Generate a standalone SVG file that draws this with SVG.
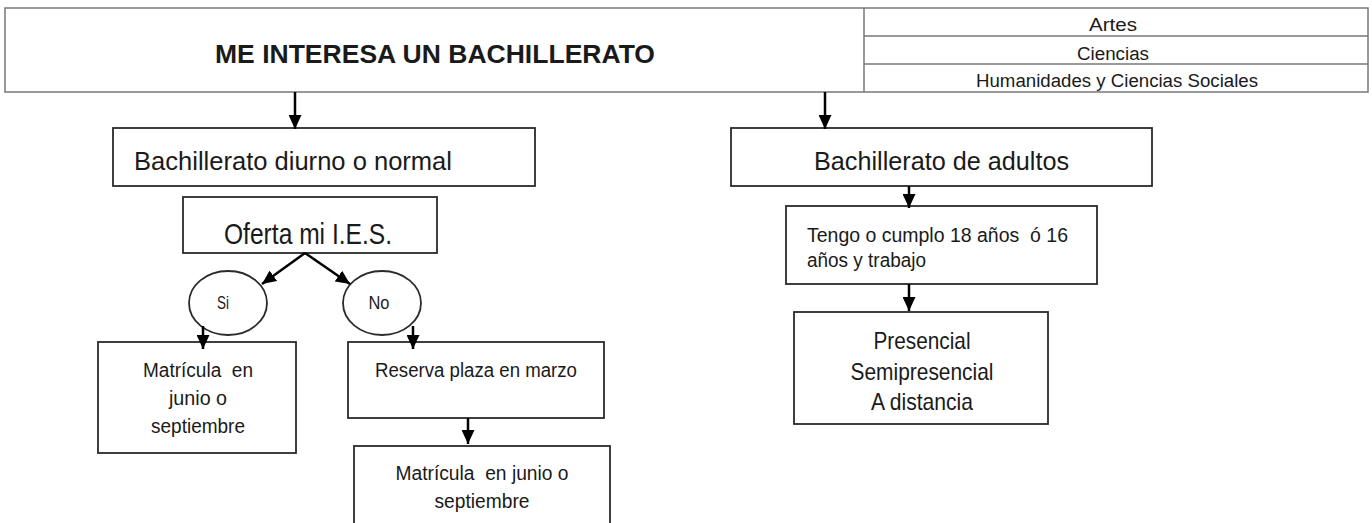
<svg xmlns="http://www.w3.org/2000/svg" width="1372" height="523" viewBox="0 0 1372 523">
<defs>
<style>
.box{fill:#fff;stroke:#2a2a2a;stroke-width:1.8}
.hdr{fill:#fff;stroke:#777;stroke-width:1.5}
.t{font-family:"Liberation Sans",Arial,sans-serif;fill:#1a1a1a;white-space:pre}
.c{text-anchor:middle}
.conn{stroke:#000;stroke-width:2.5;fill:none;marker-end:url(#ah)}
</style>
<marker id="ah" viewBox="0 0 14 13" refX="14" refY="6.5" markerWidth="14" markerHeight="13" markerUnits="userSpaceOnUse" orient="auto">
<path d="M0,0 L14,6.5 L0,13 z" fill="#000"/>
</marker>
</defs>
<rect width="1372" height="523" fill="#fff"/>

<g id="header">
<rect class="hdr" x="5" y="8" width="1363" height="84"/>
<line class="hdr" x1="864" y1="8" x2="864" y2="92"/>
<line class="hdr" x1="864" y1="36" x2="1368" y2="36"/>
<line class="hdr" x1="864" y1="64" x2="1368" y2="64"/>
<text class="t" x="215" y="63" font-size="26" font-weight="bold" textLength="440" lengthAdjust="spacingAndGlyphs">ME INTERESA UN BACHILLERATO</text>
<text class="t c" x="1113" y="31" font-size="18" textLength="48" lengthAdjust="spacingAndGlyphs">Artes</text>
<text class="t c" x="1113" y="60" font-size="18" textLength="72" lengthAdjust="spacingAndGlyphs">Ciencias</text>
<text class="t c" x="1117" y="87" font-size="18" textLength="282" lengthAdjust="spacingAndGlyphs">Humanidades y Ciencias Sociales</text>
</g>

<g id="diurno">
<rect class="box" x="113" y="128" width="422" height="58"/>
<text class="t" x="134" y="170" font-size="26" textLength="318" lengthAdjust="spacingAndGlyphs">Bachillerato diurno o normal</text>
</g>

<g id="oferta">
<rect class="box" x="183" y="197" width="254" height="56"/>
<text class="t" x="224" y="244" font-size="29" textLength="168" lengthAdjust="spacingAndGlyphs">Oferta mi I.E.S.</text>
</g>

<g id="si">
<ellipse class="box" cx="228" cy="303" rx="39" ry="32"/>
<text class="t c" x="223" y="309" font-size="18" textLength="12" lengthAdjust="spacingAndGlyphs">Si</text>
</g>

<g id="no">
<ellipse class="box" cx="382" cy="303" rx="39" ry="32"/>
<text class="t c" x="379" y="309" font-size="18" textLength="21" lengthAdjust="spacingAndGlyphs">No</text>
</g>

<g id="matricula1">
<rect class="box" x="98" y="342" width="198" height="111"/>
<text class="t c" x="198" y="377" font-size="20" textLength="110" lengthAdjust="spacingAndGlyphs">Matrícula  en</text>
<text class="t c" x="198" y="405" font-size="20" textLength="58" lengthAdjust="spacingAndGlyphs">junio o</text>
<text class="t c" x="198" y="433" font-size="20" textLength="94" lengthAdjust="spacingAndGlyphs">septiembre</text>
</g>

<g id="reserva">
<rect class="box" x="348" y="342" width="256" height="76"/>
<text class="t c" x="476" y="377" font-size="20" textLength="202" lengthAdjust="spacingAndGlyphs">Reserva plaza en marzo</text>
</g>

<g id="matricula2">
<rect class="box" x="354" y="446" width="256" height="80"/>
<text class="t c" x="482" y="480" font-size="20" textLength="173" lengthAdjust="spacingAndGlyphs">Matrícula  en junio o</text>
<text class="t c" x="482" y="508" font-size="20" textLength="95" lengthAdjust="spacingAndGlyphs">septiembre</text>
</g>

<g id="adultos">
<rect class="box" x="731" y="128" width="421" height="58"/>
<text class="t" x="814" y="170" font-size="26" textLength="255" lengthAdjust="spacingAndGlyphs">Bachillerato de adultos</text>
</g>

<g id="tengo">
<rect class="box" x="786" y="206" width="311" height="78"/>
<text class="t" x="807" y="242" font-size="20" textLength="261" lengthAdjust="spacingAndGlyphs">Tengo o cumplo 18 años  ó 16</text>
<text class="t" x="807" y="267" font-size="20" textLength="119" lengthAdjust="spacingAndGlyphs">años y trabajo</text>
</g>

<g id="modalidad">
<rect class="box" x="794" y="312" width="254" height="112"/>
<text class="t c" x="922" y="349" font-size="24" textLength="97" lengthAdjust="spacingAndGlyphs">Presencial</text>
<text class="t c" x="922" y="380" font-size="24" textLength="143" lengthAdjust="spacingAndGlyphs">Semipresencial</text>
<text class="t c" x="922" y="410" font-size="24" textLength="102" lengthAdjust="spacingAndGlyphs">A distancia</text>
</g>

<g id="connectors">
<line class="conn" x1="295" y1="92" x2="295" y2="129"/>
<path class="conn" d="M305,253 L262,284"/>
<path class="conn" d="M305,253 L350,284"/>
<line class="conn" x1="203" y1="326" x2="203" y2="349"/>
<line class="conn" x1="413" y1="326" x2="413" y2="349"/>
<line class="conn" x1="468" y1="418" x2="468" y2="444"/>
<line class="conn" x1="825" y1="92" x2="825" y2="129"/>
<line class="conn" x1="909" y1="186" x2="909" y2="208"/>
<line class="conn" x1="909" y1="284" x2="909" y2="311"/>
</g>
</svg>
